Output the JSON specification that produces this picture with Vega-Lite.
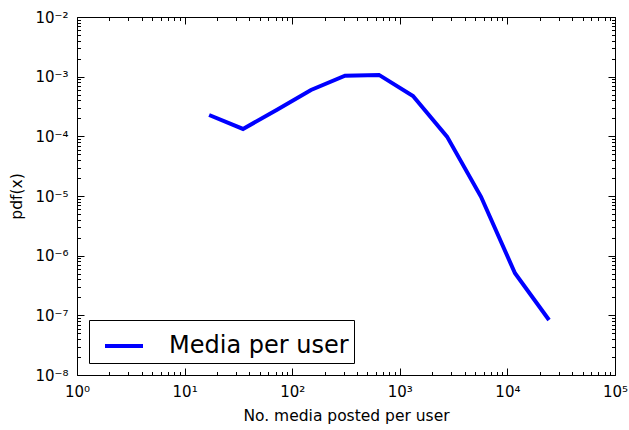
{
  "$schema": "https://vega.github.io/schema/vega-lite/v6.json",
  "width": 538,
  "height": 358,
  "autosize": {"type": "none"},
  "padding": {"left": 77, "top": 17, "right": 14, "bottom": 55},
  "background": "white",
  "config": {
    "font": "DejaVu Sans",
    "view": {"stroke": "black", "strokeWidth": 1},
    "axis": {
      "domain": false,
      "grid": false,
      "tickColor": "black",
      "tickWidth": 1,
      "labelFont": "DejaVu Sans",
      "labelFontSize": 15,
      "labelColor": "black",
      "titleFont": "DejaVu Sans",
      "titleFontSize": 15.5,
      "titleFontWeight": "normal",
      "titleColor": "black"
    }
  },
  "data": {
    "values": [
      {"x": 16.9, "pdf": 2.28e-4, "series": "Media per user"},
      {"x": 34.9, "pdf": 1.33e-4, "series": "Media per user"},
      {"x": 72.3, "pdf": 2.8e-4, "series": "Media per user"},
      {"x": 149.5, "pdf": 5.98e-4, "series": "Media per user"},
      {"x": 309.6, "pdf": 1.04e-3, "series": "Media per user"},
      {"x": 641, "pdf": 1.07e-3, "series": "Media per user"},
      {"x": 1327, "pdf": 4.74e-4, "series": "Media per user"},
      {"x": 2747, "pdf": 9.9e-5, "series": "Media per user"},
      {"x": 5688, "pdf": 9.7e-6, "series": "Media per user"},
      {"x": 11770, "pdf": 5.07e-7, "series": "Media per user"},
      {"x": 24370, "pdf": 8.36e-8, "series": "Media per user"}
    ]
  },
  "layer": [
    {
      "mark": {"type": "line", "strokeWidth": 4, "clip": true},
      "encoding": {
        "x": {
          "field": "x",
          "type": "quantitative",
          "scale": {"type": "log", "domain": [1, 100000], "nice": false},
          "axis": {
            "orient": "bottom",
            "title": "No. media posted per user",
            "titlePadding": 6,
            "values": [1,2,3,4,5,6,7,8,9,10,20,30,40,50,60,70,80,90,100,200,300,400,500,600,700,800,900,1000,2000,3000,4000,5000,6000,7000,8000,9000,10000,20000,30000,40000,50000,60000,70000,80000,90000,100000],
            "tickSize": {"condition": {"test": "abs(log(datum.value)/LN10 - round(log(datum.value)/LN10)) < 1e-6", "value": -7}, "value": -3.5},
            "labelPadding": 16,
            "labelExpr": "abs(log(datum.value)/LN10 - round(log(datum.value)/LN10)) < 1e-6 ? '10' + ['⁰','¹','²','³','⁴','⁵'][round(log(datum.value)/LN10)] : ''",
            "labelFlush": false,
            "labelOverlap": false
          }
        },
        "y": {
          "field": "pdf",
          "type": "quantitative",
          "scale": {"type": "log", "domain": [1e-8, 1e-2], "nice": false},
          "axis": {
            "orient": "left",
            "title": "pdf(x)",
            "titlePadding": 10,
            "values": [1e-8,2e-8,3e-8,4e-8,5e-8,6e-8,7e-8,8e-8,9e-8,1e-7,2e-7,3e-7,4e-7,5e-7,6e-7,7e-7,8e-7,9e-7,1e-6,2e-6,3e-6,4e-6,5e-6,6e-6,7e-6,8e-6,9e-6,1e-5,2e-5,3e-5,4e-5,5e-5,6e-5,7e-5,8e-5,9e-5,1e-4,2e-4,3e-4,4e-4,5e-4,6e-4,7e-4,8e-4,9e-4,1e-3,2e-3,3e-3,4e-3,5e-3,6e-3,7e-3,8e-3,9e-3,1e-2],
            "tickSize": {"condition": {"test": "abs(log(datum.value)/LN10 - round(log(datum.value)/LN10)) < 1e-6", "value": -7}, "value": -3.5},
            "labelPadding": 16,
            "labelExpr": "abs(log(datum.value)/LN10 - round(log(datum.value)/LN10)) < 1e-6 ? '10' + ['⁻⁸','⁻⁷','⁻⁶','⁻⁵','⁻⁴','⁻³','⁻²'][round(log(datum.value)/LN10) + 8] : ''",
            "labelFlush": false,
            "labelOverlap": false
          }
        },
        "color": {
          "field": "series",
          "type": "nominal",
          "scale": {"range": ["#0000ff"]},
          "legend": {
            "title": null,
            "orient": "bottom-left",
            "offset": 12,
            "padding": 5,
            "strokeColor": "black",
            "fillColor": "white",
            "cornerRadius": 0,
            "symbolType": "stroke",
            "symbolSize": 1444,
            "symbolStrokeWidth": 4,
            "symbolOffset": 9,
            "labelFont": "DejaVu Sans",
            "labelFontSize": 24,
            "labelColor": "black",
            "labelOffset": 24,
            "labelLimit": 400
          }
        }
      }
    },
    {
      "mark": {"type": "line", "strokeOpacity": 0},
      "encoding": {
        "x": {
          "field": "x",
          "type": "quantitative",
          "scale": {"type": "log", "domain": [1, 100000], "nice": false},
          "axis": {
            "orient": "top",
            "title": null,
            "labels": false,
            "values": [1,2,3,4,5,6,7,8,9,10,20,30,40,50,60,70,80,90,100,200,300,400,500,600,700,800,900,1000,2000,3000,4000,5000,6000,7000,8000,9000,10000,20000,30000,40000,50000,60000,70000,80000,90000,100000],
            "tickSize": {"condition": {"test": "abs(log(datum.value)/LN10 - round(log(datum.value)/LN10)) < 1e-6", "value": -7}, "value": -3.5}
          }
        },
        "y": {
          "field": "pdf",
          "type": "quantitative",
          "scale": {"type": "log", "domain": [1e-8, 1e-2], "nice": false},
          "axis": {
            "orient": "right",
            "title": null,
            "labels": false,
            "values": [1e-8,2e-8,3e-8,4e-8,5e-8,6e-8,7e-8,8e-8,9e-8,1e-7,2e-7,3e-7,4e-7,5e-7,6e-7,7e-7,8e-7,9e-7,1e-6,2e-6,3e-6,4e-6,5e-6,6e-6,7e-6,8e-6,9e-6,1e-5,2e-5,3e-5,4e-5,5e-5,6e-5,7e-5,8e-5,9e-5,1e-4,2e-4,3e-4,4e-4,5e-4,6e-4,7e-4,8e-4,9e-4,1e-3,2e-3,3e-3,4e-3,5e-3,6e-3,7e-3,8e-3,9e-3,1e-2],
            "tickSize": {"condition": {"test": "abs(log(datum.value)/LN10 - round(log(datum.value)/LN10)) < 1e-6", "value": -7}, "value": -3.5}
          }
        }
      }
    }
  ],
  "resolve": {"axis": {"x": "independent", "y": "independent"}}
}
